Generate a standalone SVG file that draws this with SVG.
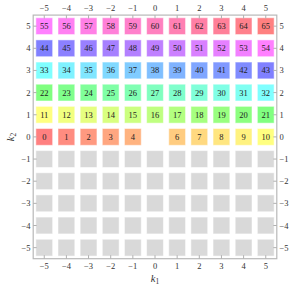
<svg xmlns="http://www.w3.org/2000/svg" xmlns:xlink="http://www.w3.org/1999/xlink" width="301" height="296" viewBox="0 0 301 296">
<style>
.cell{stroke:#ffffff;stroke-opacity:0.5;stroke-width:1}
.empty{fill:#d9d9d9}
.num{font-family:"Liberation Serif","DejaVu Serif",serif;font-size:8.5px;fill:#222;text-anchor:middle}
.tk{font-family:"Liberation Serif","DejaVu Serif",serif;font-size:8.5px;fill:#333}
.tc{text-anchor:middle}
.te{text-anchor:end}
.ax{font-family:"Liberation Serif","DejaVu Serif",serif;font-size:10.5px;font-style:italic;fill:#333}
.frame{fill:none;stroke:#b8b8b8;stroke-width:1.2}
.tick{stroke:#b0b0b0;stroke-width:1}
</style>
<defs>
<rect id="sq" x="-8.4" y="-8.4" width="16.8" height="16.8"/>
</defs>
<rect x="0" y="0" width="301" height="296" fill="#ffffff"/>

<g id="empty-cells">
<g id="e-5m1" transform="translate(44.25,159.05)"><use xlink:href="#sq" class="cell empty"/></g>
<g id="e-4m1" transform="translate(66.4,159.05)"><use xlink:href="#sq" class="cell empty"/></g>
<g id="e-3m1" transform="translate(88.55,159.05)"><use xlink:href="#sq" class="cell empty"/></g>
<g id="e-2m1" transform="translate(110.7,159.05)"><use xlink:href="#sq" class="cell empty"/></g>
<g id="e-1m1" transform="translate(132.85,159.05)"><use xlink:href="#sq" class="cell empty"/></g>
<g id="e0m1" transform="translate(155,159.05)"><use xlink:href="#sq" class="cell empty"/></g>
<g id="e1m1" transform="translate(177.15,159.05)"><use xlink:href="#sq" class="cell empty"/></g>
<g id="e2m1" transform="translate(199.3,159.05)"><use xlink:href="#sq" class="cell empty"/></g>
<g id="e3m1" transform="translate(221.45,159.05)"><use xlink:href="#sq" class="cell empty"/></g>
<g id="e4m1" transform="translate(243.6,159.05)"><use xlink:href="#sq" class="cell empty"/></g>
<g id="e5m1" transform="translate(265.75,159.05)"><use xlink:href="#sq" class="cell empty"/></g>
<g id="e-5m2" transform="translate(44.25,181.2)"><use xlink:href="#sq" class="cell empty"/></g>
<g id="e-4m2" transform="translate(66.4,181.2)"><use xlink:href="#sq" class="cell empty"/></g>
<g id="e-3m2" transform="translate(88.55,181.2)"><use xlink:href="#sq" class="cell empty"/></g>
<g id="e-2m2" transform="translate(110.7,181.2)"><use xlink:href="#sq" class="cell empty"/></g>
<g id="e-1m2" transform="translate(132.85,181.2)"><use xlink:href="#sq" class="cell empty"/></g>
<g id="e0m2" transform="translate(155,181.2)"><use xlink:href="#sq" class="cell empty"/></g>
<g id="e1m2" transform="translate(177.15,181.2)"><use xlink:href="#sq" class="cell empty"/></g>
<g id="e2m2" transform="translate(199.3,181.2)"><use xlink:href="#sq" class="cell empty"/></g>
<g id="e3m2" transform="translate(221.45,181.2)"><use xlink:href="#sq" class="cell empty"/></g>
<g id="e4m2" transform="translate(243.6,181.2)"><use xlink:href="#sq" class="cell empty"/></g>
<g id="e5m2" transform="translate(265.75,181.2)"><use xlink:href="#sq" class="cell empty"/></g>
<g id="e-5m3" transform="translate(44.25,203.35)"><use xlink:href="#sq" class="cell empty"/></g>
<g id="e-4m3" transform="translate(66.4,203.35)"><use xlink:href="#sq" class="cell empty"/></g>
<g id="e-3m3" transform="translate(88.55,203.35)"><use xlink:href="#sq" class="cell empty"/></g>
<g id="e-2m3" transform="translate(110.7,203.35)"><use xlink:href="#sq" class="cell empty"/></g>
<g id="e-1m3" transform="translate(132.85,203.35)"><use xlink:href="#sq" class="cell empty"/></g>
<g id="e0m3" transform="translate(155,203.35)"><use xlink:href="#sq" class="cell empty"/></g>
<g id="e1m3" transform="translate(177.15,203.35)"><use xlink:href="#sq" class="cell empty"/></g>
<g id="e2m3" transform="translate(199.3,203.35)"><use xlink:href="#sq" class="cell empty"/></g>
<g id="e3m3" transform="translate(221.45,203.35)"><use xlink:href="#sq" class="cell empty"/></g>
<g id="e4m3" transform="translate(243.6,203.35)"><use xlink:href="#sq" class="cell empty"/></g>
<g id="e5m3" transform="translate(265.75,203.35)"><use xlink:href="#sq" class="cell empty"/></g>
<g id="e-5m4" transform="translate(44.25,225.5)"><use xlink:href="#sq" class="cell empty"/></g>
<g id="e-4m4" transform="translate(66.4,225.5)"><use xlink:href="#sq" class="cell empty"/></g>
<g id="e-3m4" transform="translate(88.55,225.5)"><use xlink:href="#sq" class="cell empty"/></g>
<g id="e-2m4" transform="translate(110.7,225.5)"><use xlink:href="#sq" class="cell empty"/></g>
<g id="e-1m4" transform="translate(132.85,225.5)"><use xlink:href="#sq" class="cell empty"/></g>
<g id="e0m4" transform="translate(155,225.5)"><use xlink:href="#sq" class="cell empty"/></g>
<g id="e1m4" transform="translate(177.15,225.5)"><use xlink:href="#sq" class="cell empty"/></g>
<g id="e2m4" transform="translate(199.3,225.5)"><use xlink:href="#sq" class="cell empty"/></g>
<g id="e3m4" transform="translate(221.45,225.5)"><use xlink:href="#sq" class="cell empty"/></g>
<g id="e4m4" transform="translate(243.6,225.5)"><use xlink:href="#sq" class="cell empty"/></g>
<g id="e5m4" transform="translate(265.75,225.5)"><use xlink:href="#sq" class="cell empty"/></g>
<g id="e-5m5" transform="translate(44.25,247.65)"><use xlink:href="#sq" class="cell empty"/></g>
<g id="e-4m5" transform="translate(66.4,247.65)"><use xlink:href="#sq" class="cell empty"/></g>
<g id="e-3m5" transform="translate(88.55,247.65)"><use xlink:href="#sq" class="cell empty"/></g>
<g id="e-2m5" transform="translate(110.7,247.65)"><use xlink:href="#sq" class="cell empty"/></g>
<g id="e-1m5" transform="translate(132.85,247.65)"><use xlink:href="#sq" class="cell empty"/></g>
<g id="e0m5" transform="translate(155,247.65)"><use xlink:href="#sq" class="cell empty"/></g>
<g id="e1m5" transform="translate(177.15,247.65)"><use xlink:href="#sq" class="cell empty"/></g>
<g id="e2m5" transform="translate(199.3,247.65)"><use xlink:href="#sq" class="cell empty"/></g>
<g id="e3m5" transform="translate(221.45,247.65)"><use xlink:href="#sq" class="cell empty"/></g>
<g id="e4m5" transform="translate(243.6,247.65)"><use xlink:href="#sq" class="cell empty"/></g>
<g id="e5m5" transform="translate(265.75,247.65)"><use xlink:href="#sq" class="cell empty"/></g>
</g>

<g id="cells">
<g id="n0" transform="translate(44.25,136.9)"><use xlink:href="#sq" class="cell" fill="#ff8080"/><text class="num" y="3">0</text></g>
<g id="n1" transform="translate(66.4,136.9)"><use xlink:href="#sq" class="cell" fill="#ff8c80"/><text class="num" y="3">1</text></g>
<g id="n2" transform="translate(88.55,136.9)"><use xlink:href="#sq" class="cell" fill="#ff9980"/><text class="num" y="3">2</text></g>
<g id="n3" transform="translate(110.7,136.9)"><use xlink:href="#sq" class="cell" fill="#ffa680"/><text class="num" y="3">3</text></g>
<g id="n4" transform="translate(132.85,136.9)"><use xlink:href="#sq" class="cell" fill="#ffb380"/><text class="num" y="3">4</text></g>
<g id="n6" transform="translate(177.15,136.9)"><use xlink:href="#sq" class="cell" fill="#ffcc80"/><text class="num" y="3">6</text></g>
<g id="n7" transform="translate(199.3,136.9)"><use xlink:href="#sq" class="cell" fill="#ffd980"/><text class="num" y="3">7</text></g>
<g id="n8" transform="translate(221.45,136.9)"><use xlink:href="#sq" class="cell" fill="#ffe680"/><text class="num" y="3">8</text></g>
<g id="n9" transform="translate(243.6,136.9)"><use xlink:href="#sq" class="cell" fill="#fff280"/><text class="num" y="3">9</text></g>
<g id="n10" transform="translate(265.75,136.9)"><use xlink:href="#sq" class="cell" fill="#ffff80"/><text class="num" y="3">10</text></g>

<g id="n11" transform="translate(44.25,114.75)"><use xlink:href="#sq" class="cell" fill="#ffff80"/><text class="num" y="3">11</text></g>
<g id="n12" transform="translate(66.4,114.75)"><use xlink:href="#sq" class="cell" fill="#f2ff80"/><text class="num" y="3">12</text></g>
<g id="n13" transform="translate(88.55,114.75)"><use xlink:href="#sq" class="cell" fill="#e6ff80"/><text class="num" y="3">13</text></g>
<g id="n14" transform="translate(110.7,114.75)"><use xlink:href="#sq" class="cell" fill="#d9ff80"/><text class="num" y="3">14</text></g>
<g id="n15" transform="translate(132.85,114.75)"><use xlink:href="#sq" class="cell" fill="#ccff80"/><text class="num" y="3">15</text></g>
<g id="n16" transform="translate(155,114.75)"><use xlink:href="#sq" class="cell" fill="#bfff80"/><text class="num" y="3">16</text></g>
<g id="n17" transform="translate(177.15,114.75)"><use xlink:href="#sq" class="cell" fill="#b3ff80"/><text class="num" y="3">17</text></g>
<g id="n18" transform="translate(199.3,114.75)"><use xlink:href="#sq" class="cell" fill="#a6ff80"/><text class="num" y="3">18</text></g>
<g id="n19" transform="translate(221.45,114.75)"><use xlink:href="#sq" class="cell" fill="#99ff80"/><text class="num" y="3">19</text></g>
<g id="n20" transform="translate(243.6,114.75)"><use xlink:href="#sq" class="cell" fill="#8cff80"/><text class="num" y="3">20</text></g>
<g id="n21" transform="translate(265.75,114.75)"><use xlink:href="#sq" class="cell" fill="#80ff80"/><text class="num" y="3">21</text></g>

<g id="n22" transform="translate(44.25,92.6)"><use xlink:href="#sq" class="cell" fill="#80ff80"/><text class="num" y="3">22</text></g>
<g id="n23" transform="translate(66.4,92.6)"><use xlink:href="#sq" class="cell" fill="#80ff8c"/><text class="num" y="3">23</text></g>
<g id="n24" transform="translate(88.55,92.6)"><use xlink:href="#sq" class="cell" fill="#80ff99"/><text class="num" y="3">24</text></g>
<g id="n25" transform="translate(110.7,92.6)"><use xlink:href="#sq" class="cell" fill="#80ffa6"/><text class="num" y="3">25</text></g>
<g id="n26" transform="translate(132.85,92.6)"><use xlink:href="#sq" class="cell" fill="#80ffb3"/><text class="num" y="3">26</text></g>
<g id="n27" transform="translate(155,92.6)"><use xlink:href="#sq" class="cell" fill="#80ffbf"/><text class="num" y="3">27</text></g>
<g id="n28" transform="translate(177.15,92.6)"><use xlink:href="#sq" class="cell" fill="#80ffcc"/><text class="num" y="3">28</text></g>
<g id="n29" transform="translate(199.3,92.6)"><use xlink:href="#sq" class="cell" fill="#80ffd9"/><text class="num" y="3">29</text></g>
<g id="n30" transform="translate(221.45,92.6)"><use xlink:href="#sq" class="cell" fill="#80ffe6"/><text class="num" y="3">30</text></g>
<g id="n31" transform="translate(243.6,92.6)"><use xlink:href="#sq" class="cell" fill="#80fff2"/><text class="num" y="3">31</text></g>
<g id="n32" transform="translate(265.75,92.6)"><use xlink:href="#sq" class="cell" fill="#80ffff"/><text class="num" y="3">32</text></g>

<g id="n33" transform="translate(44.25,70.45)"><use xlink:href="#sq" class="cell" fill="#80ffff"/><text class="num" y="3">33</text></g>
<g id="n34" transform="translate(66.4,70.45)"><use xlink:href="#sq" class="cell" fill="#80f2ff"/><text class="num" y="3">34</text></g>
<g id="n35" transform="translate(88.55,70.45)"><use xlink:href="#sq" class="cell" fill="#80e6ff"/><text class="num" y="3">35</text></g>
<g id="n36" transform="translate(110.7,70.45)"><use xlink:href="#sq" class="cell" fill="#80d9ff"/><text class="num" y="3">36</text></g>
<g id="n37" transform="translate(132.85,70.45)"><use xlink:href="#sq" class="cell" fill="#80ccff"/><text class="num" y="3">37</text></g>
<g id="n38" transform="translate(155,70.45)"><use xlink:href="#sq" class="cell" fill="#80bfff"/><text class="num" y="3">38</text></g>
<g id="n39" transform="translate(177.15,70.45)"><use xlink:href="#sq" class="cell" fill="#80b3ff"/><text class="num" y="3">39</text></g>
<g id="n40" transform="translate(199.3,70.45)"><use xlink:href="#sq" class="cell" fill="#80a6ff"/><text class="num" y="3">40</text></g>
<g id="n41" transform="translate(221.45,70.45)"><use xlink:href="#sq" class="cell" fill="#8099ff"/><text class="num" y="3">41</text></g>
<g id="n42" transform="translate(243.6,70.45)"><use xlink:href="#sq" class="cell" fill="#808cff"/><text class="num" y="3">42</text></g>
<g id="n43" transform="translate(265.75,70.45)"><use xlink:href="#sq" class="cell" fill="#8080ff"/><text class="num" y="3">43</text></g>

<g id="n44" transform="translate(44.25,48.3)"><use xlink:href="#sq" class="cell" fill="#8080ff"/><text class="num" y="3">44</text></g>
<g id="n45" transform="translate(66.4,48.3)"><use xlink:href="#sq" class="cell" fill="#8c80ff"/><text class="num" y="3">45</text></g>
<g id="n46" transform="translate(88.55,48.3)"><use xlink:href="#sq" class="cell" fill="#9980ff"/><text class="num" y="3">46</text></g>
<g id="n47" transform="translate(110.7,48.3)"><use xlink:href="#sq" class="cell" fill="#a680ff"/><text class="num" y="3">47</text></g>
<g id="n48" transform="translate(132.85,48.3)"><use xlink:href="#sq" class="cell" fill="#b380ff"/><text class="num" y="3">48</text></g>
<g id="n49" transform="translate(155,48.3)"><use xlink:href="#sq" class="cell" fill="#bf80ff"/><text class="num" y="3">49</text></g>
<g id="n50" transform="translate(177.15,48.3)"><use xlink:href="#sq" class="cell" fill="#cc80ff"/><text class="num" y="3">50</text></g>
<g id="n51" transform="translate(199.3,48.3)"><use xlink:href="#sq" class="cell" fill="#d980ff"/><text class="num" y="3">51</text></g>
<g id="n52" transform="translate(221.45,48.3)"><use xlink:href="#sq" class="cell" fill="#e680ff"/><text class="num" y="3">52</text></g>
<g id="n53" transform="translate(243.6,48.3)"><use xlink:href="#sq" class="cell" fill="#f280ff"/><text class="num" y="3">53</text></g>
<g id="n54" transform="translate(265.75,48.3)"><use xlink:href="#sq" class="cell" fill="#ff80ff"/><text class="num" y="3">54</text></g>

<g id="n55" transform="translate(44.25,26.15)"><use xlink:href="#sq" class="cell" fill="#ff80ff"/><text class="num" y="3">55</text></g>
<g id="n56" transform="translate(66.4,26.15)"><use xlink:href="#sq" class="cell" fill="#ff80f2"/><text class="num" y="3">56</text></g>
<g id="n57" transform="translate(88.55,26.15)"><use xlink:href="#sq" class="cell" fill="#ff80e6"/><text class="num" y="3">57</text></g>
<g id="n58" transform="translate(110.7,26.15)"><use xlink:href="#sq" class="cell" fill="#ff80d9"/><text class="num" y="3">58</text></g>
<g id="n59" transform="translate(132.85,26.15)"><use xlink:href="#sq" class="cell" fill="#ff80cc"/><text class="num" y="3">59</text></g>
<g id="n60" transform="translate(155,26.15)"><use xlink:href="#sq" class="cell" fill="#ff80bf"/><text class="num" y="3">60</text></g>
<g id="n61" transform="translate(177.15,26.15)"><use xlink:href="#sq" class="cell" fill="#ff80b3"/><text class="num" y="3">61</text></g>
<g id="n62" transform="translate(199.3,26.15)"><use xlink:href="#sq" class="cell" fill="#ff80a6"/><text class="num" y="3">62</text></g>
<g id="n63" transform="translate(221.45,26.15)"><use xlink:href="#sq" class="cell" fill="#ff8099"/><text class="num" y="3">63</text></g>
<g id="n64" transform="translate(243.6,26.15)"><use xlink:href="#sq" class="cell" fill="#ff808c"/><text class="num" y="3">64</text></g>
<g id="n65" transform="translate(265.75,26.15)"><use xlink:href="#sq" class="cell" fill="#ff8080"/><text class="num" y="3">65</text></g>
</g>

<g id="connectors"></g>

<g id="frame">
<rect class="frame" x="33.2" y="15.1" width="243.6" height="243.6"/>
<path class="tick" d="M44.25 15.1v3.5M66.4 15.1v3.5M88.55 15.1v3.5M110.7 15.1v3.5M132.85 15.1v3.5M155 15.1v3.5M177.15 15.1v3.5M199.3 15.1v3.5M221.45 15.1v3.5M243.6 15.1v3.5M265.75 15.1v3.5
M44.25 258.7v-3.5M66.4 258.7v-3.5M88.55 258.7v-3.5M110.7 258.7v-3.5M132.85 258.7v-3.5M155 258.7v-3.5M177.15 258.7v-3.5M199.3 258.7v-3.5M221.45 258.7v-3.5M243.6 258.7v-3.5M265.75 258.7v-3.5
M33.2 26.15h3.5M33.2 48.3h3.5M33.2 70.45h3.5M33.2 92.6h3.5M33.2 114.75h3.5M33.2 136.9h3.5M33.2 159.05h3.5M33.2 181.2h3.5M33.2 203.35h3.5M33.2 225.5h3.5M33.2 247.65h3.5
M276.8 26.15h-3.5M276.8 48.3h-3.5M276.8 70.45h-3.5M276.8 92.6h-3.5M276.8 114.75h-3.5M276.8 136.9h-3.5M276.8 159.05h-3.5M276.8 181.2h-3.5M276.8 203.35h-3.5M276.8 225.5h-3.5M276.8 247.65h-3.5"/>
</g>

<g id="tick-labels">
<g class="tk tc">
<text x="44.25" y="11.3">−5</text><text x="66.4" y="11.3">−4</text><text x="88.55" y="11.3">−3</text><text x="110.7" y="11.3">−2</text><text x="132.85" y="11.3">−1</text><text x="155" y="11.3">0</text><text x="177.15" y="11.3">1</text><text x="199.3" y="11.3">2</text><text x="221.45" y="11.3">3</text><text x="243.6" y="11.3">4</text><text x="265.75" y="11.3">5</text>
<text x="44.25" y="269">−5</text><text x="66.4" y="269">−4</text><text x="88.55" y="269">−3</text><text x="110.7" y="269">−2</text><text x="132.85" y="269">−1</text><text x="155" y="269">0</text><text x="177.15" y="269">1</text><text x="199.3" y="269">2</text><text x="221.45" y="269">3</text><text x="243.6" y="269">4</text><text x="265.75" y="269">5</text>
</g>
<g class="tk te">
<text x="30.5" y="29.15">5</text><text x="30.5" y="51.3">4</text><text x="30.5" y="73.45">3</text><text x="30.5" y="95.6">2</text><text x="30.5" y="117.75">1</text><text x="30.5" y="139.9">0</text><text x="30.5" y="162.05">−1</text><text x="30.5" y="184.2">−2</text><text x="30.5" y="206.35">−3</text><text x="30.5" y="228.5">−4</text><text x="30.5" y="250.65">−5</text>
</g>
<g class="tk">
<text x="279.5" y="29.15">5</text><text x="279.5" y="51.3">4</text><text x="279.5" y="73.45">3</text><text x="279.5" y="95.6">2</text><text x="279.5" y="117.75">1</text><text x="279.5" y="139.9">0</text><text x="279.5" y="162.05">−1</text><text x="279.5" y="184.2">−2</text><text x="279.5" y="206.35">−3</text><text x="279.5" y="228.5">−4</text><text x="279.5" y="250.65">−5</text>
</g>
</g>

<g id="axis-labels">
<text class="ax" x="155" y="282" text-anchor="middle">k<tspan font-style="normal" font-size="7.5px" dy="2">1</tspan></text>
<text class="ax" transform="translate(14,137) rotate(-90)" text-anchor="middle">k<tspan font-style="normal" font-size="7.5px" dy="2">2</tspan></text>
</g>
</svg>
